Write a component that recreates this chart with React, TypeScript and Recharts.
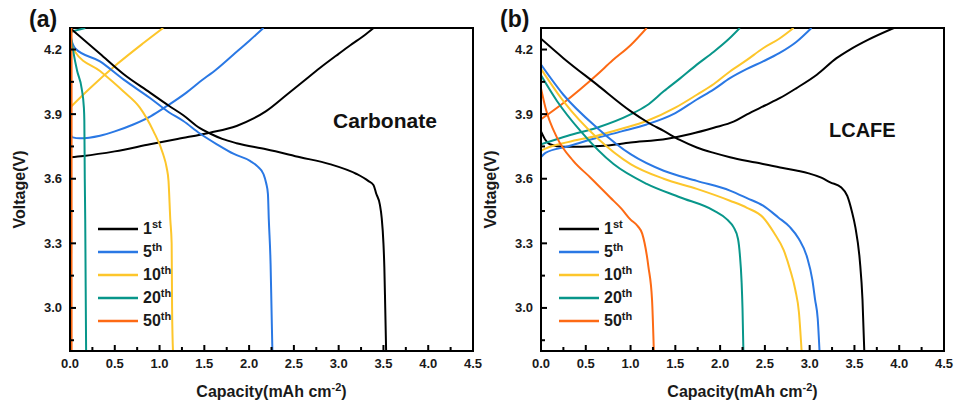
import React from "react";
import { LineChart, Line, XAxis, YAxis, ReferenceArea } from "recharts";

type Pt = [number, number];

const cycleNames = ["1", "5", "10", "20", "50"];
const cycleSuffix = ["st", "th", "th", "th", "th"];
const cycleColors = ["#000000", "#2a78e4", "#fdc62b", "#08968a", "#fd6a14"];

const xTicks = [0, 0.25, 0.5, 0.75, 1, 1.25, 1.5, 1.75, 2, 2.25, 2.5, 2.75, 3, 3.25, 3.5, 3.75, 4, 4.25, 4.5];
const yTicks = [2.85, 3.0, 3.15, 3.3, 3.45, 3.6, 3.75, 3.9, 4.05, 4.2];

// (a) Carbonate — charge goes up, discharge comes down
const carbCharge1: Pt[] = [[0, 3.70], [0.15, 3.706], [0.5, 3.727], [0.893, 3.76], [1.2, 3.785], [1.563, 3.814], [1.86, 3.845], [2.05, 3.88], [2.19, 3.914], [2.42, 3.99], [2.6, 4.05], [2.79, 4.114], [3.0, 4.18], [3.13, 4.22], [3.3, 4.27], [3.39, 4.3]];
const carbCharge5: Pt[] = [[0, 3.81], [0.03, 3.792], [0.11, 3.788], [0.335, 3.80], [0.5, 3.82], [0.707, 3.852], [0.9, 3.89], [1.08, 3.937], [1.3, 4.0], [1.45, 4.05], [1.64, 4.11], [1.82, 4.175], [2.0, 4.24], [2.16, 4.3]];
const carbCharge10: Pt[] = [[0, 3.93], [0.223, 4.02], [0.52, 4.13], [0.82, 4.23], [1.04, 4.3]];
const carbCharge20: Pt[] = [[0, 4.28], [0.08, 4.29], [0.17, 4.3]];
const carbCharge50: Pt[] = [[0.014, 2.8], [0.015, 4.3]];

const carbDischarge1: Pt[] = [[0, 4.3], [0.335, 4.18], [0.6, 4.085], [0.893, 4.0], [1.1, 3.94], [1.265, 3.895], [1.45, 3.835], [1.563, 3.81], [1.7, 3.785], [1.86, 3.765], [2.19, 3.737], [2.57, 3.70], [2.9, 3.668], [3.2, 3.622], [3.33, 3.59], [3.39, 3.57], [3.42, 3.53], [3.46, 3.48], [3.48, 3.42], [3.50, 3.3], [3.51, 3.19], [3.52, 3.0], [3.53, 2.8]];
const carbDischarge5: Pt[] = [[0, 4.26], [0.056, 4.206], [0.335, 4.145], [0.6, 4.06], [0.893, 3.975], [1.1, 3.91], [1.265, 3.868], [1.45, 3.81], [1.64, 3.76], [1.83, 3.715], [2.01, 3.683], [2.1, 3.655], [2.16, 3.622], [2.19, 3.58], [2.21, 3.53], [2.22, 3.41], [2.24, 3.2], [2.25, 3.0], [2.26, 2.8]];
const carbDischarge10: Pt[] = [[0, 4.24], [0.056, 4.19], [0.335, 4.10], [0.595, 4.006], [0.78, 3.93], [0.93, 3.822], [1.04, 3.714], [1.08, 3.65], [1.10, 3.59], [1.12, 3.41], [1.135, 3.3], [1.14, 3.0], [1.15, 2.8]];
const carbDischarge20: Pt[] = [[0, 4.29], [0.037, 4.19], [0.08, 4.1], [0.13, 4.02], [0.155, 3.93], [0.16, 3.87], [0.165, 3.6], [0.17, 3.41], [0.175, 3.1], [0.18, 2.8]];
const carbDischarge50: Pt[] = [[0.015, 4.3], [0.016, 2.8]];

// (b) LCAFE
const lcCharge1: Pt[] = [[0, 3.82], [0.05, 3.78], [0.1, 3.76], [0.25, 3.748], [0.66, 3.752], [1.0, 3.768], [1.41, 3.786], [1.67, 3.808], [1.93, 3.837], [2.15, 3.865], [2.3, 3.899], [2.5, 3.94], [2.67, 3.975], [2.85, 4.02], [3.08, 4.083], [3.3, 4.16], [3.45, 4.2], [3.65, 4.245], [3.94, 4.3]];
const lcCharge5: Pt[] = [[0, 3.70], [0.05, 3.72], [0.3, 3.75], [0.625, 3.79], [0.9, 3.82], [1.18, 3.852], [1.5, 3.905], [1.74, 3.968], [1.93, 4.015], [2.11, 4.067], [2.3, 4.11], [2.48, 4.145], [2.66, 4.183], [2.85, 4.235], [3.02, 4.3]];
const lcCharge10: Pt[] = [[0, 3.73], [0.05, 3.74], [0.3, 3.77], [0.625, 3.80], [0.9, 3.832], [1.18, 3.868], [1.5, 3.93], [1.74, 3.99], [1.93, 4.04], [2.11, 4.098], [2.3, 4.152], [2.48, 4.206], [2.66, 4.25], [2.82, 4.3]];
const lcCharge20: Pt[] = [[0, 3.76], [0.3, 3.80], [0.625, 3.837], [1.0, 3.899], [1.18, 3.94], [1.37, 4.006], [1.55, 4.065], [1.74, 4.13], [1.93, 4.19], [2.1, 4.25], [2.22, 4.3]];
const lcCharge50: Pt[] = [[0, 3.876], [0.25, 3.952], [0.625, 4.083], [0.8, 4.15], [1.0, 4.22], [1.18, 4.3]];

const lcDischarge1: Pt[] = [[0, 4.25], [0.25, 4.16], [0.625, 4.037], [1.0, 3.914], [1.2, 3.86], [1.37, 3.822], [1.55, 3.78], [1.74, 3.745], [1.93, 3.72], [2.11, 3.70], [2.4, 3.675], [2.67, 3.652], [2.85, 3.638], [2.99, 3.625], [3.13, 3.605], [3.23, 3.583], [3.35, 3.56], [3.42, 3.52], [3.47, 3.45], [3.51, 3.375], [3.56, 3.22], [3.59, 3.037], [3.61, 2.8]];
const lcDischarge5: Pt[] = [[0, 4.13], [0.25, 3.99], [0.625, 3.837], [1.0, 3.714], [1.37, 3.637], [1.74, 3.59], [2.11, 3.545], [2.3, 3.51], [2.48, 3.475], [2.65, 3.42], [2.78, 3.375], [2.88, 3.32], [2.97, 3.237], [3.03, 3.13], [3.06, 3.04], [3.09, 2.95], [3.11, 2.8]];
const lcDischarge10: Pt[] = [[0, 4.11], [0.25, 3.96], [0.625, 3.79], [1.0, 3.668], [1.37, 3.60], [1.74, 3.553], [2.11, 3.498], [2.3, 3.465], [2.48, 3.42], [2.6, 3.35], [2.71, 3.268], [2.78, 3.18], [2.84, 3.083], [2.88, 2.98], [2.91, 2.8]];
const lcDischarge20: Pt[] = [[0, 4.08], [0.18, 3.96], [0.44, 3.822], [0.81, 3.668], [1.18, 3.576], [1.55, 3.514], [1.93, 3.452], [2.08, 3.41], [2.15, 3.375], [2.2, 3.32], [2.22, 3.25], [2.24, 3.12], [2.25, 3.0], [2.26, 2.8]];
const lcDischarge50: Pt[] = [[0, 4.02], [0.05, 3.93], [0.18, 3.79], [0.36, 3.683], [0.55, 3.606], [0.77, 3.514], [0.9, 3.46], [1.0, 3.41], [1.08, 3.38], [1.13, 3.345], [1.2, 3.19], [1.24, 3.037], [1.26, 2.8]];

const carbonateCharge = [carbCharge1, carbCharge5, carbCharge10, carbCharge20, carbCharge50];
const carbonateDischarge = [carbDischarge1, carbDischarge5, carbDischarge10, carbDischarge20, carbDischarge50];
const lcafeCharge = [lcCharge1, lcCharge5, lcCharge10, lcCharge20, lcCharge50];
const lcafeDischarge = [lcDischarge1, lcDischarge5, lcDischarge10, lcDischarge20, lcDischarge50];

const FONT = '"Liberation Sans", Arial, sans-serif';
const INK = "#1a1a1a";

const toRows = (pts: Pt[]) => pts.map(([x, y]) => ({ x, y }));

// ticks point into the plot; minor ticks have no label
function XTick(props: any) {
  const { x, y, payload } = props;
  const v = payload.value;
  const major = Math.abs(v * 2 - Math.round(v * 2)) < 1e-6;
  return (
    <g>
      <path d={`M${x},${y}V${y - (major ? 6 : 4)}`} stroke="#000" strokeWidth={2} fill="none" />
      {major && (
        <text x={x} y={y + 17} textAnchor="middle" fontFamily={FONT} fontWeight="bold" fontSize={13} fill={INK}>
          {v.toFixed(1)}
        </text>
      )}
    </g>
  );
}

function YTick(props: any) {
  const { x, y, payload } = props;
  const v = payload.value;
  const major = Math.abs(v / 0.3 - Math.round(v / 0.3)) < 1e-6;
  return (
    <g>
      <path d={`M${x},${y}H${x + (major ? 6 : 4)}`} stroke="#000" strokeWidth={2} fill="none" />
      {major && (
        <text x={x - 8} y={y + 4.5} textAnchor="end" fontFamily={FONT} fontWeight="bold" fontSize={13} fill={INK}>
          {v.toFixed(1)}
        </text>
      )}
    </g>
  );
}

const xLabel = (p: any) => {
  const vb = p.viewBox;
  return (
    <text x={vb.x + vb.width / 2} y={vb.y + 46} textAnchor="middle" fontFamily={FONT} fontWeight="bold" fontSize={16} fill={INK}>
      Capacity(mAh cm
      <tspan dy={-6} fontSize={11}>-2</tspan>
      <tspan dy={6}>)</tspan>
    </text>
  );
};

const yLabel = (p: any) => {
  const vb = p.viewBox;
  const cx = vb.x - 5;
  const cy = vb.y + vb.height / 2;
  return (
    <text x={cx} y={cy} transform={`rotate(-90 ${cx} ${cy})`} textAnchor="middle" fontFamily={FONT} fontWeight="bold" fontSize={16} fill={INK}>
      Voltage(V)
    </text>
  );
};

function Panel(props: {
  left: number;
  width: number;
  letter: string;
  title: string;
  titleX: number;
  titleY: number;
  titleSize: number;
  legendX: number;
  charge: Pt[][];
  discharge: Pt[][];
}) {
  const { left, width, letter, title, titleX, titleY, titleSize, legendX, charge, discharge } = props;
  const marginRight = width - 70 - 403;
  return (
    <div style={{ position: "absolute", left, top: 0, width, height: 405 }}>
      <LineChart width={width} height={405} margin={{ top: 28, right: marginRight, bottom: 24, left: 30 }}>
        <XAxis
          type="number"
          dataKey="x"
          domain={[0, 4.5]}
          ticks={xTicks}
          interval={0}
          allowDataOverflow
          height={30}
          tickSize={0}
          tickMargin={0}
          tickLine={false}
          tick={XTick}
          axisLine={{ stroke: "#000", strokeWidth: 2 }}
          label={xLabel}
        />
        <YAxis
          type="number"
          dataKey="y"
          domain={[2.8, 4.3]}
          ticks={yTicks}
          interval={0}
          allowDataOverflow
          width={40}
          tickSize={0}
          tickMargin={0}
          tickLine={false}
          tick={YTick}
          axisLine={{ stroke: "#000", strokeWidth: 2 }}
          label={yLabel}
        />
        <ReferenceArea x1={0} x2={4.5} y1={2.8} y2={4.3} fill="none" stroke="#000" strokeWidth={2} />
        {charge.map((pts, i) => (
          <Line
            key={"c" + i}
            data={toRows(pts)}
            dataKey="y"
            type="monotone"
            stroke={cycleColors[i]}
            strokeWidth={2}
            dot={false}
            activeDot={false}
            isAnimationActive={false}
          />
        ))}
        {discharge.map((pts, i) => (
          <Line
            key={"d" + i}
            data={toRows(pts)}
            dataKey="y"
            type="monotone"
            stroke={cycleColors[i]}
            strokeWidth={2}
            dot={false}
            activeDot={false}
            isAnimationActive={false}
          />
        ))}
      </LineChart>

      <div style={{ position: "absolute", left: 29, top: 5, fontFamily: FONT, fontWeight: "bold", fontSize: 23, color: "#111", lineHeight: "28px" }}>
        ({letter})
      </div>
      <div style={{ position: "absolute", left: titleX, top: titleY - titleSize, fontFamily: FONT, fontWeight: "bold", fontSize: titleSize, color: "#111", lineHeight: `${titleSize + 4}px` }}>
        {title}
      </div>

      {cycleNames.map((n, i) => (
        <div key={n} style={{ position: "absolute", left: legendX, top: 229 + 23 * i - 10, height: 20, display: "flex", alignItems: "center", fontFamily: FONT, fontWeight: "bold", color: INK }}>
          <svg width={40} height={20} style={{ display: "block" }}>
            <line x1={0} x2={40} y1={10} y2={10} stroke={cycleColors[i]} strokeWidth={2.5} />
          </svg>
          <span style={{ marginLeft: 5, fontSize: 16, lineHeight: "20px" }}>
            {n}
            <sup style={{ fontSize: 11, lineHeight: 0, verticalAlign: 0, position: "relative", top: -6 }}>{cycleSuffix[i]}</sup>
          </span>
        </div>
      ))}
    </div>
  );
}

export default function App() {
  return (
    <div style={{ position: "absolute", left: 0, top: 0, width: 955, height: 405, background: "#fff", overflow: "hidden" }}>
      <Panel
        left={0}
        width={485}
        letter="a"
        title="Carbonate"
        titleX={333}
        titleY={129}
        titleSize={21}
        legendX={98}
        charge={carbonateCharge}
        discharge={carbonateDischarge}
      />
      <Panel
        left={471}
        width={484}
        letter="b"
        title="LCAFE"
        titleX={358}
        titleY={138}
        titleSize={20}
        legendX={88}
        charge={lcafeCharge}
        discharge={lcafeDischarge}
      />
    </div>
  );
}
